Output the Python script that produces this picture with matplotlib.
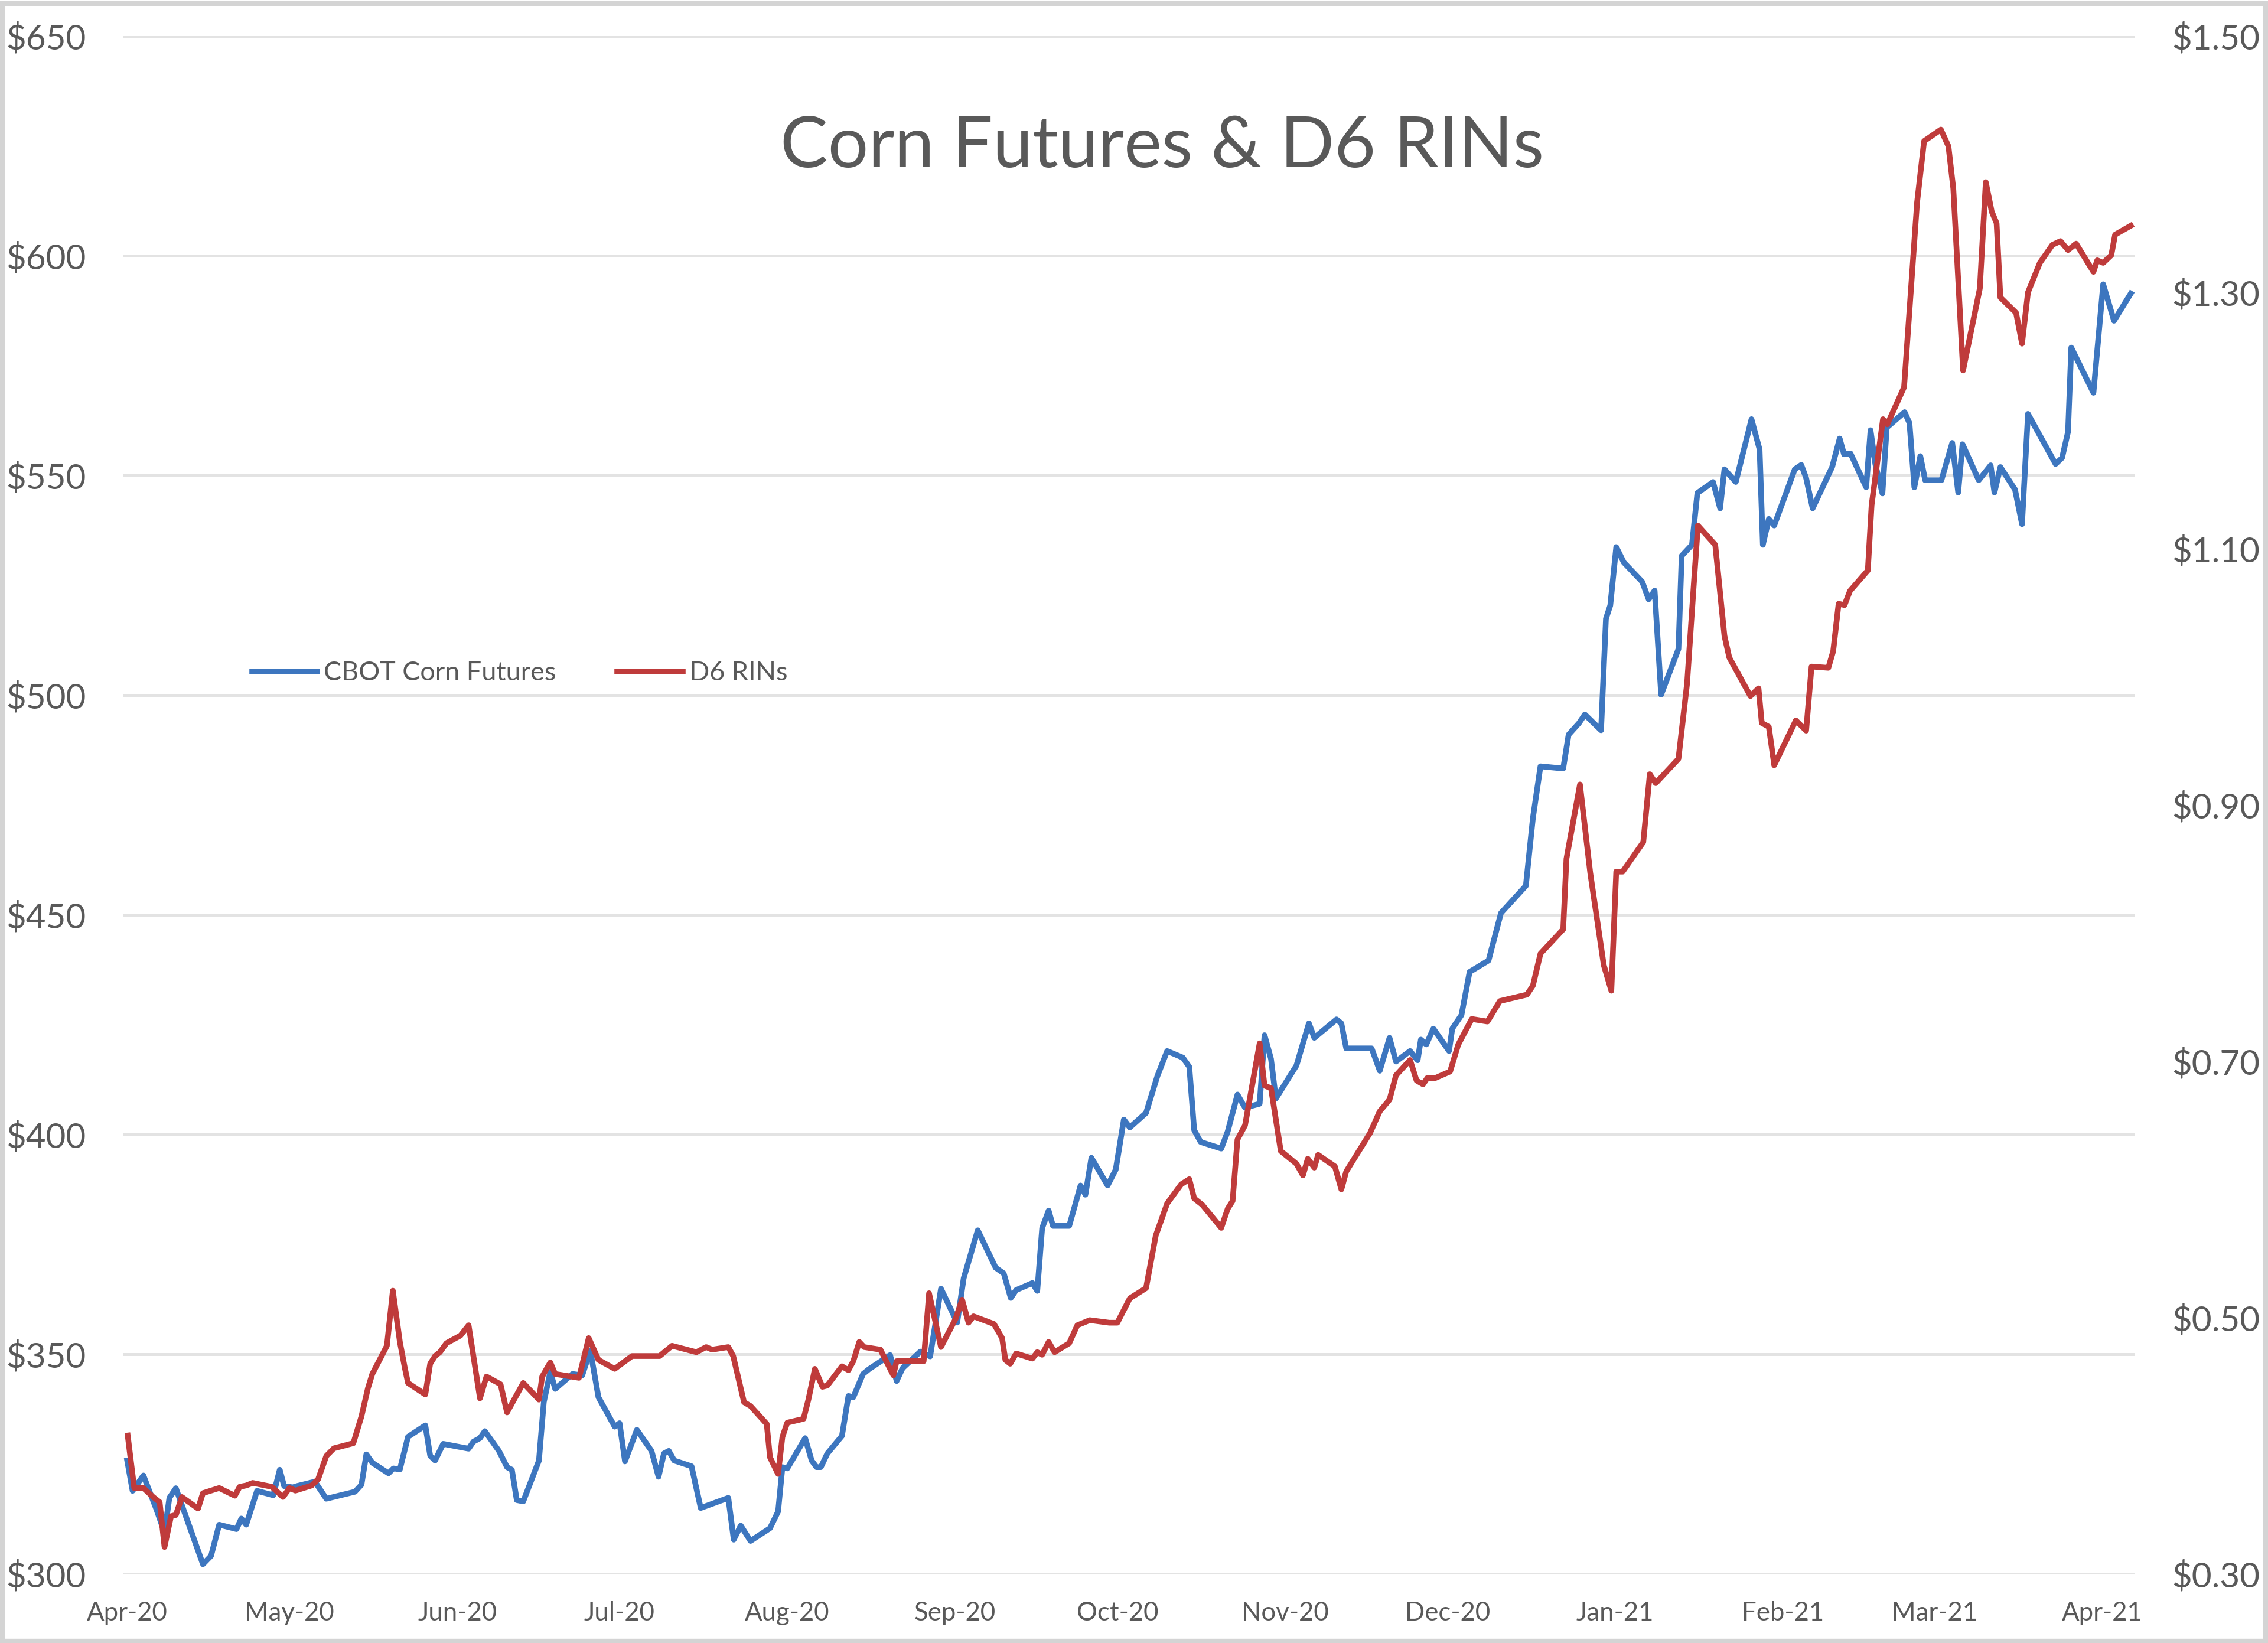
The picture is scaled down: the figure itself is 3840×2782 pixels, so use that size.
import numpy as np
import pandas as pd
import matplotlib
matplotlib.use("Agg")
import matplotlib.pyplot as plt
import matplotlib.dates as mdates
from matplotlib.patches import Rectangle

# --- Data ---
# days counted from 2020-04-01
start_date = pd.Timestamp("2020-04-01")

corn_day = [0, 1, 3, 5.4, 6.9, 7.8, 9, 10.1, 14, 15.5, 17, 20.2, 21.1, 22, 24, 27, 28.2, 29, 30.6, 31.4,
            34.7, 36.8, 42.1, 43.3, 44.2, 45.3, 48.3, 49.2, 50.4, 51.9, 55.1, 56, 56.9, 58.4, 63.1, 64,
            65.2, 66.1, 68.7, 70.2, 71.1, 72, 73.2, 76.1, 77, 78.2, 79.1, 82.3, 84.1, 85.6,
            87.1, 90.1, 91, 92, 94.2, 96.9, 98.2, 99.2, 100.1, 101.1, 104.3, 106, 111.1, 112.1, 113.4,
            115.2, 118.8, 120.3, 121.1, 122, 125.3, 126.5, 127.4, 128.2, 129.4, 132.1, 133.3, 134.2, 136,
            137.1, 141, 142.2, 143.3, 146.6, 148.4, 150.4, 153.4, 154.6, 157.2, 160.5, 162, 163.3, 164.3,
            167.3, 168.2, 169.1, 170.3, 171.1, 174.1,
            176.2, 177.1, 178.2, 181.2, 182.7, 184.2, 185.3, 188.3, 190.4, 192.2, 195.1, 196.3, 197.2,
            198.4, 202.2, 203.4, 205.2, 206.6, 209.3, 210.2, 211.4, 212.3, 216.1, 218.4, 219.4, 223.5,
            224.4, 225.3, 230, 231.5, 233.3, 234.5, 237.1,
            238.5, 239.1, 240.1, 241.4, 244.3, 244.9, 246.6, 248.1, 251.6, 253.9, 258.5, 259.8, 261.2,
            265.4, 266.4, 268.3, 269.4,
            272.4, 273.3, 274.1, 275.2, 276.6, 280, 281.2, 282.3, 283.5, 286.7, 287.3, 289.2, 290.2,
            293.1, 294.4, 295.2, 297.3, 300.2, 301.7, 302.3, 303.4, 304.4, 308.2, 309.4, 310.3, 311.5,
            315.1,
            316.5, 317.3, 318.5, 321.4, 322.2, 323.1, 324.4, 325.2, 328.5, 329.4, 330.3, 331.4, 332.3,
            335.3, 337.3, 338.4, 339.2, 342.2, 344.4, 345.1, 346.2, 348.9, 350.2, 351.3, 356.4, 357.6,
            358.7, 359.3, 363.4, 365.2, 367.2, 370.3]
corn_price = [325.8, 318.9, 322.4, 314.7, 309.4, 317.3, 319.5, 315.7, 302.2, 304.1, 311.2, 310.2, 312.6,
              311.2, 318.9, 317.9, 323.7, 320, 319.7, 320, 321, 317.1, 318.7, 320.3, 327.2, 325.3, 322.9,
              324, 323.8, 331.2, 333.8, 326.9, 325.8, 329.6, 328.5, 330.1, 330.9, 332.5, 328, 324.3,
              323.7, 316.8, 316.5, 325.8, 339.1, 346.0, 342.1, 345.5, 345.2, 350.8,
              340.2, 333.5, 334.3, 325.6, 332.8, 328, 322.1, 327.4, 328, 325.8, 324.5, 315, 317.3, 307.8,
              311, 307.5, 310.4, 314.2, 324.3, 324, 330.9, 325.8, 324.3, 324.3, 327.4, 331.4, 340.5,
              340.2, 345.5, 346.6, 349.8, 343.9, 346.8, 350.6, 349.5, 364.9, 357.2, 367.3, 378.2, 369.7,
              368.4, 362.8, 364.6, 366.2, 364.4, 378.7, 382.7, 379.2, 379.2,
              388.4, 386.3, 394.7, 388.4, 392, 403.4, 401.6, 404.9, 413.3, 419, 417.5, 415.4, 401,
              398.3, 396.8, 400.7, 409.1, 406.1, 407, 422.6, 417.2, 408.2, 415.7, 425.3, 422, 426.2,
              425.3, 419.6, 419.6, 414.5, 422, 416.6, 419,
              416.9, 421.6, 420.5, 424.1, 419, 424.1, 427.2, 437, 439.6, 450.4, 456.6, 472, 483.8,
              483.3, 491, 493.6, 495.6,
              492, 517.4, 520.4, 533.7, 530.2, 525.8, 521.8, 523.8, 500.1, 510.5, 531.7, 534.2, 546,
              548.5, 542.5, 551.4, 548.5, 562.8, 555.9, 534.2, 540.1, 538.6, 551.4, 552.4, 549.4, 542.5,
              551.9,
              558.4, 554.8, 555, 547.3, 560.3, 552.5, 545.9, 560.9, 564.4, 561.9, 547.3, 554.4, 548.9,
              548.9, 557.4, 546.1, 557.1, 548.9, 552.3, 546.1, 551.9, 546.8, 538.9, 564, 552.6, 554,
              559.9, 579.1, 568.8, 593.5, 585.2, 591.4]

rin_day = [0.1, 1.3, 3, 4.8, 6, 6.9, 8.1, 9, 10.1, 13.1, 14, 17, 19.9, 20.8, 22, 23.2, 26.7, 28.8, 30,
           31.1, 34.1, 35.3, 36.8, 38.2, 41.8, 43.3, 44.5, 45.3, 48, 49.1, 50.4, 51.3, 51.9, 55.1, 56,
           56.9, 57.8, 59, 61.6, 63.1, 65.2, 66.4, 69, 70.2, 73.2, 76.1, 76.7, 78.2, 79.1, 83.5, 85.3,
           87.1, 90.1, 93.3, 98.4, 100.7, 105.2, 107, 108.1, 111.1, 112, 114, 115.2, 118.2, 118.8, 120.3,
           121.1, 122, 125, 125.9, 127.1, 128.5, 129.4, 132.1, 133.3, 134.2, 135.3, 136.2, 139.2, 141.6,
           142.2, 147.2, 148.2, 150.4, 153.1, 154.3, 155.5, 156.4, 160.2, 161.7, 162.3, 163.2, 164.3,
           167.3, 168.2, 169.1, 170.3, 171.4, 174.1,
           175.6, 177.9, 181.5, 183, 185.3, 188.3, 190.1, 192.2, 194.8, 196.3, 197.2, 198.7, 202.2,
           203.4, 204.3, 205.2, 206.6, 209.3, 210.2, 211.4, 213.2, 216.1, 217.3, 218.2, 219.4, 220.1,
           223.2, 224.4, 225.3, 229.7, 231.5, 233.3, 234.5, 237.1,
           238.3, 239.5, 240.3, 241.8, 244.5, 246, 248.5, 251.4, 253.7, 258.7, 259.8, 261.2, 265.4,
           266, 268.5, 270.4,
           272.9, 274.3, 275.2, 276.4, 280.2, 281.4, 282.5, 286.7, 288.3, 289.6, 290.3, 293.5, 295.2,
           296.1, 300, 301.5, 302.1, 303.4, 304.4, 308.4, 310.3, 311.3, 314.4, 315.3, 316.3, 317.4,
           318.4, 321.7, 322.4, 324.5, 325.3, 328.4,
           330.8, 332.1, 335.2, 336.6, 337.5, 339.3, 342.4, 343.5, 344.6, 345.5, 346.2, 349.1, 350.2,
           351.3, 353.5, 355.8, 357.3, 358.7, 360.2, 363.4, 364.1, 365.2, 366.7, 367.4, 370.3]
rin_price = [0.408, 0.367, 0.367, 0.360, 0.356, 0.321, 0.345, 0.346, 0.360, 0.351, 0.363, 0.367, 0.361,
             0.368, 0.369, 0.371, 0.368, 0.360, 0.367, 0.365, 0.369, 0.374, 0.392, 0.398, 0.402, 0.423,
             0.445, 0.456, 0.478, 0.521, 0.481, 0.461, 0.449, 0.440, 0.464, 0.470, 0.473, 0.480, 0.486,
             0.494, 0.437, 0.454, 0.448, 0.426, 0.449, 0.436, 0.454, 0.465, 0.456, 0.453, 0.484,
             0.467, 0.460, 0.470, 0.470, 0.478, 0.473, 0.477, 0.475, 0.477, 0.470, 0.434, 0.431, 0.417,
             0.391, 0.378, 0.407, 0.418, 0.421, 0.436, 0.460, 0.446, 0.447, 0.462, 0.459, 0.466, 0.481,
             0.477, 0.475, 0.455, 0.466, 0.466, 0.519, 0.477, 0.499, 0.514, 0.496, 0.501, 0.495, 0.484,
             0.467, 0.464, 0.472, 0.468, 0.473, 0.471, 0.481, 0.473, 0.480,
             0.494, 0.498, 0.496, 0.496, 0.515, 0.523, 0.564, 0.589, 0.604, 0.608, 0.593, 0.588, 0.570,
             0.585, 0.591, 0.639, 0.650, 0.714, 0.681, 0.679, 0.630, 0.620, 0.611, 0.624, 0.617, 0.627,
             0.618, 0.600, 0.614, 0.644, 0.661, 0.670, 0.689, 0.701,
             0.685, 0.682, 0.687, 0.687, 0.692, 0.713, 0.733, 0.731, 0.747, 0.752, 0.759, 0.784, 0.803,
             0.858, 0.916, 0.847,
             0.775, 0.755, 0.848, 0.848, 0.871, 0.924, 0.917, 0.936, 0.995, 1.076, 1.118, 1.103, 1.032,
             1.015, 0.985, 0.991, 0.964, 0.961, 0.931, 0.966, 0.958, 1.008, 1.007, 1.020, 1.057, 1.056,
             1.067, 1.083, 1.134, 1.201, 1.197, 1.226,
             1.370, 1.418, 1.427, 1.414, 1.381, 1.239, 1.303, 1.386, 1.363, 1.354, 1.296, 1.284, 1.260,
             1.300, 1.323, 1.337, 1.340, 1.333, 1.338, 1.316, 1.325, 1.323, 1.329, 1.345, 1.352]

title = "Corn Futures & D6 RINs"
corn_label = "CBOT Corn Futures"
rin_label = "D6 RINs"
left_ticks = np.arange(300, 651, 50)
right_ticks = np.arange(0.30, 1.51, 0.20)

corn_dates = start_date + pd.to_timedelta(corn_day, unit="D")
rin_dates = start_date + pd.to_timedelta(rin_day, unit="D")

# --- Style ---
plt.rcParams['font.family'] = ['Lato', 'DejaVu Sans']
text_color = '#595959'
blue = '#3D76BF'
red = '#BF3B3B'

fig = plt.figure(figsize=(12.8, 2782 / 300), dpi=300)
fig.patch.set_facecolor('white')
ax = fig.add_axes([208 / 3840, 1 - 2665 / 2782, (3615 - 208) / 3840, (2665 - 61) / 2782])
ax2 = ax.twinx()

l1, = ax.plot(corn_dates, corn_price, color=blue, lw=2.3, solid_joinstyle='round', zorder=3)
l2, = ax2.plot(rin_dates, rin_price, color=red, lw=2.3, solid_joinstyle='round', zorder=3)

ax.set_ylim(300, 650)
ax.set_yticks(left_ticks)
ax.yaxis.set_major_formatter(plt.FuncFormatter(lambda v, p: f"${v:.0f}"))
ax2.set_ylim(0.30, 1.50)
ax2.set_yticks(right_ticks)
ax2.yaxis.set_major_formatter(plt.FuncFormatter(lambda v, p: f"${v:.2f}"))

ax.set_xlim(start_date - pd.Timedelta(days=0.8), start_date + pd.Timedelta(days=371.1))
ax.xaxis.set_major_locator(mdates.MonthLocator())
ax.xaxis.set_major_formatter(mdates.DateFormatter('%b-%y'))

ax.grid(axis='y', color='#e3e3e3', lw=1.2, zorder=0)
ax.set_axisbelow(True)
for a in (ax, ax2):
    for s in a.spines.values():
        s.set_visible(False)
ax.tick_params(axis='x', length=0, pad=11, labelsize=10.5, colors=text_color)
ax.tick_params(axis='y', length=0, pad=15, labelsize=14, colors=text_color)
ax2.tick_params(axis='y', length=0, pad=15, labelsize=14, colors=text_color)
for t in ax.get_yticklabels():
    t.set_horizontalalignment('right')

fig.text(1968 / 3840, 1 - 250 / 2782, title, ha='center', va='center',
         fontsize=29, color=text_color)

fig.legend([l1, l2], [corn_label, rin_label], loc='center left',
           bbox_to_anchor=(427 / 3840, 1 - 1140 / 2782), ncol=2, frameon=False,
           fontsize=10.8, labelcolor=text_color, handlelength=2.45, handletextpad=0.25,
           columnspacing=2.3, borderpad=0, borderaxespad=0)

# chart border
fig.patches.append(Rectangle((0.001, 0.001), 0.998, 0.997, transform=fig.transFigure,
                             fill=False, edgecolor='#d4d4d4', lw=2.0))

fig.savefig('out.png', dpi=300, facecolor='white')
